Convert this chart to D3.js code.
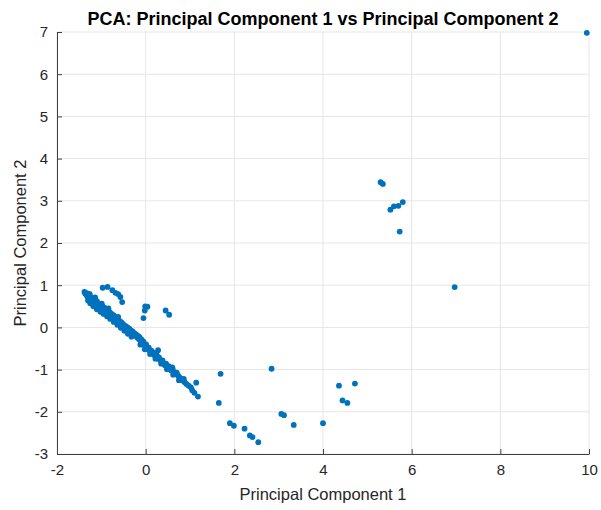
<!DOCTYPE html>
<html><head><meta charset="utf-8">
<script src="https://cdn.jsdelivr.net/npm/d3@7"></script>
<style>body{margin:0;background:#fff}svg{display:block;font-family:"Liberation Sans",Arial,sans-serif}</style>
</head><body><svg id="c" width="601" height="510"></svg>
<script>
const title = "PCA: Principal Component 1 vs Principal Component 2";
const xLabel = "Principal Component 1";
const yLabel = "Principal Component 2";
const xTicks = [-2,0,2,4,6,8,10];
const yTicks = [-3,-2,-1,0,1,2,3,4,5,6,7];
const pc1 = [
-1.38,-1.35,-1.33,-1.32,-1.30,-1.29,-1.28,-1.27,-1.25,-1.24,-1.23,-1.22,-1.21,-1.20,-1.19,-1.18,-1.17,-1.16,-1.15,-1.14,
-1.13,-1.12,-1.11,-1.10,-1.09,-1.08,-1.07,-1.06,-1.05,-1.04,-1.03,-1.02,-1.01,-1.00,-0.98,-0.97,-0.96,-0.94,-0.93,-0.92,
-0.90,-0.89,-0.88,-0.86,-0.85,-0.83,-0.82,-0.80,-0.79,-0.77,-0.76,-0.74,-0.73,-0.71,-0.70,-0.68,-0.66,-0.65,-0.63,-0.61,
-0.60,-0.58,-0.56,-0.55,-0.53,-0.51,-0.49,-0.47,-0.45,-0.43,-0.41,-0.39,-0.37,-0.35,-0.33,-0.31,-0.29,-0.27,-0.25,-0.23,
-0.21,-0.19,-0.17,-0.15,-0.13,-0.11,-0.09,-0.07,-0.05,-0.03,-0.01,0.01,0.03,0.05,0.07,0.09,0.11,0.13,0.15,0.18,
0.20,0.23,0.25,0.28,0.30,0.33,0.36,0.38,0.41,0.44,0.46,0.49,0.52,0.55,0.58,0.61,0.64,0.67,0.70,0.73,
0.76,0.80,0.83,0.88,0.92,0.97,1.02,1.05,1.14,1.10,1.18,0.28,
-1.30,-1.25,-1.18,-1.10,-1.02,-0.95,-0.87,-0.80,-0.72,-0.64,-0.56,-0.48,-0.40,-0.32,-0.12,-0.02,0.10,0.22,0.35,0.48,0.62,0.75,
-1.36,-1.26,-1.14,-0.99,-0.84,-0.62,-0.15,0.60,0.86,
-0.97,-0.86,-0.75,-0.68,-0.62,-0.57,-0.53,
-0.01,0.04,-0.02,-0.05,0.45,0.53,
1.69,1.65,1.90,1.99,2.23,2.35,2.41,2.54,2.84,3.06,3.12,3.34,4.00,4.36,4.72,4.44,4.55,
5.30,5.35,5.52,5.60,5.70,5.80,5.73,6.97,9.95
];
const pc2 = [
0.84,0.82,0.78,0.74,0.80,0.70,0.76,0.66,0.72,0.63,0.68,0.58,0.65,0.61,0.70,0.55,0.62,0.58,0.66,0.52,
0.60,0.56,0.50,0.62,0.54,0.48,0.57,0.51,0.46,0.55,0.49,0.44,0.52,0.47,0.42,0.50,0.45,0.40,0.47,0.38,
0.43,0.36,0.41,0.34,0.39,0.32,0.37,0.29,0.34,0.27,0.31,0.24,0.29,0.21,0.26,0.19,0.22,0.15,0.19,0.12,
0.16,0.09,0.13,0.06,0.10,0.03,0.06,0.00,0.03,-0.03,0.00,-0.07,-0.03,-0.10,-0.07,-0.13,-0.10,-0.17,-0.14,-0.20,
-0.17,-0.24,-0.21,-0.28,-0.25,-0.32,-0.29,-0.37,-0.34,-0.41,-0.44,-0.40,-0.47,-0.51,-0.48,-0.55,-0.58,-0.55,-0.62,-0.60,
-0.66,-0.70,-0.66,-0.74,-0.71,-0.78,-0.82,-0.78,-0.86,-0.90,-0.86,-0.94,-0.92,-0.98,-1.02,-0.99,-1.06,-1.10,-1.07,-1.14,
-1.18,-1.22,-1.26,-1.30,-1.34,-1.38,-1.42,-1.49,-1.31,-1.55,-1.64,-0.54,
0.64,0.57,0.50,0.43,0.37,0.32,0.26,0.20,0.13,0.06,-0.01,-0.08,-0.15,-0.22,-0.41,-0.52,-0.63,-0.74,-0.86,-0.99,-1.12,-1.25,
0.80,0.79,0.71,0.56,0.45,0.25,-0.22,-0.95,-1.22,
0.94,0.96,0.88,0.82,0.79,0.72,0.60,
0.50,0.49,0.40,0.22,0.40,0.30,
-1.10,-1.79,-2.27,-2.33,-2.40,-2.56,-2.60,-2.72,-0.98,-2.05,-2.08,-2.31,-2.27,-1.38,-1.33,-1.73,-1.79,
3.44,3.40,2.79,2.87,2.88,2.97,2.27,0.955,6.98
];

const M = {left:57, right:589, top:32, bottom:454};
const svg = d3.select("#c");
const x = d3.scaleLinear().domain([-2,10]).range([M.left, M.right]);
const y = d3.scaleLinear().domain([-3,7]).range([M.bottom, M.top]);

// grid
const g = svg.append("g");
g.selectAll(".vx").data(xTicks).join("line")
  .attr("x1", d=>x(d)).attr("x2", d=>x(d)).attr("y1", M.top).attr("y2", M.bottom)
  .attr("stroke", "#e6e6e6").attr("stroke-width", 1);
g.selectAll(".hy").data(yTicks).join("line")
  .attr("y1", d=>y(d)).attr("y2", d=>y(d)).attr("x1", M.left).attr("x2", M.right)
  .attr("stroke", "#e6e6e6").attr("stroke-width", 1);

// points
svg.append("g").selectAll("circle").data(pc1.map((v,i)=>[v,pc2[i]])).join("circle")
  .attr("cx", d=>x(d[0])).attr("cy", d=>y(d[1])).attr("r", 2.9)
  .attr("fill", "#0072BD");

// axes
const fmt = d => String(d);
const xAxis = d3.axisBottom(x).tickValues(xTicks).tickFormat(fmt).tickSizeInner(-5).tickSizeOuter(0).tickPadding(10);
const yAxis = d3.axisLeft(y).tickValues(yTicks).tickFormat(fmt).tickSizeInner(-5).tickSizeOuter(0).tickPadding(9);
const ax = svg.append("g").attr("transform", `translate(0,${M.bottom})`).call(xAxis);
const ay = svg.append("g").attr("transform", `translate(${M.left},0)`).call(yAxis);
[ax, ay].forEach(a => {
  a.select(".domain").attr("stroke", "#404040");
  a.selectAll(".tick line").attr("stroke", "#404040");
  a.selectAll(".tick text").attr("fill", "#262626").style("font-size", "15px").style("font-family", '"Liberation Sans",Arial,sans-serif');
});

svg.append("text").attr("x", (M.left+M.right)/2).attr("y", 25).attr("text-anchor", "middle")
  .style("font-size", "18px").style("font-weight", "bold").attr("fill", "#000").text(title);
svg.append("text").attr("x", (M.left+M.right)/2).attr("y", 500).attr("text-anchor", "middle")
  .style("font-size", "16.5px").attr("fill", "#262626").text(xLabel);
svg.append("text").attr("transform", `translate(26,${(M.top+M.bottom)/2}) rotate(-90)`).attr("text-anchor", "middle")
  .style("font-size", "16.5px").attr("fill", "#262626").text(yLabel);
</script></body></html>
